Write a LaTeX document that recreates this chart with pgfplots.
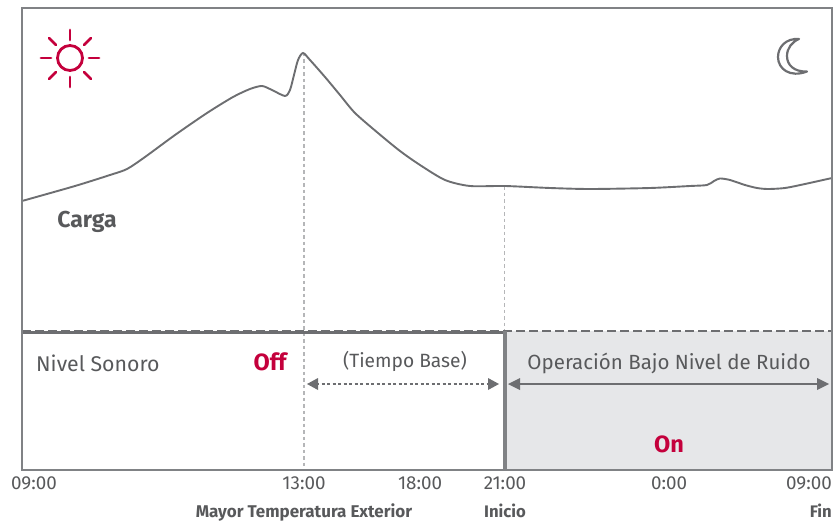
\documentclass[border=0pt]{standalone}
\usepackage{fontspec}
\setmainfont{Fira Sans}
\usepackage{pgfplots}
\pgfplotsset{compat=1.18}
\definecolor{frame}{HTML}{808285}
\definecolor{curve}{HTML}{6D6E71}
\definecolor{txt}{HTML}{58595B}
\definecolor{lgred}{HTML}{C4003C}
\definecolor{shade}{HTML}{E6E7E9}
\definecolor{vdash}{HTML}{B5B6B8}
\begin{document}
\begin{tikzpicture}[x=1pt,y=1pt]
\path[use as bounding box] (0,0) rectangle (833,524);
\begin{axis}[
  at={(22pt,54pt)},anchor=south west,
  scale only axis,width=810pt,height=462pt,
  xmin=22,xmax=832,ymin=8,ymax=470,y dir=reverse,
  axis line style={draw=frame,line width=1.9pt},
  ytick=\empty,
  xtick={34,304,420,505,669,809},
  xticklabels={09:00,13:00,18:00,21:00,0:00,09:00},
  major tick length=0pt,
  xticklabel style={font=\fontsize{18.8}{20}\selectfont,text=txt,yshift=-3pt,/pgf/number format/assume math mode=true},
  clip=false,
  axis on top=true,
]
% shaded area
\addplot[fill=shade,draw=none] coordinates {(505,331) (832,331) (832,470) (505,470)} -- cycle;
% guide lines
\addplot[vdash,line width=1.2pt,dash pattern=on 3.5pt off 3pt] coordinates {(304,53) (304,470)};
\addplot[vdash,line width=1.2pt,dash pattern=on 3.5pt off 3pt] coordinates {(504.5,186) (504.5,331)};
% curve
\addplot[curve,line width=1.9pt,smooth,tension=0.45] coordinates {
(22,201) (75,186) (110,175) (127,169) (145,157) (175,135) (207,113) (233,97) (250,89) (262,86) (272,90) (285,96) (290,90) (294,75) (298,60) (303,53) (310,60) (325,77) (340,95) (355,113) (378,133) (400,151) (420,165) (445,180) (470,186) (505,186) (550,188) (590,189) (650,188) (690,186) (707,185) (714,181) (720,178.5) (730,180) (745,185) (757,188) (768,189) (785,188) (805,184) (832,178)};
% separator
\addplot[curve,line width=2.2pt] coordinates {(22,332.5) (505,332.5)};
\addplot[curve,line width=2.8pt,dash pattern=on 9pt off 4pt] coordinates {(22,331) (832,331)};
\addplot[frame,line width=3.2pt] coordinates {(505,331) (505,470)};
% arrows
\addplot[curve,line width=1.2pt,dash pattern=on 3pt off 2.5pt] coordinates {(316,384) (490,384)};
\addplot[draw=none,fill=curve] coordinates {(307,384) (318,378) (318,390)} -- cycle;
\addplot[draw=none,fill=curve] coordinates {(499,384) (488,378) (488,390)} -- cycle;
\addplot[curve,line width=1.5pt] coordinates {(516,384) (820,384)};
\addplot[draw=none,fill=curve] coordinates {(508,384) (520,378) (520,390)} -- cycle;
\addplot[draw=none,fill=curve] coordinates {(829,384) (817,378) (817,390)} -- cycle;
% sun
\draw[lgred,line width=2.8pt] (axis cs:70,58) circle[radius=12.5pt];
\draw[lgred,line width=2.8pt,line cap=round] (axis cs:70,30) -- (axis cs:70,40);
\draw[lgred,line width=2.8pt,line cap=round] (axis cs:70,77) -- (axis cs:70,87);
\draw[lgred,line width=2.8pt,line cap=round] (axis cs:41,58) -- (axis cs:51,58);
\draw[lgred,line width=2.8pt,line cap=round] (axis cs:89,58) -- (axis cs:99,58);
\draw[lgred,line width=2.8pt,line cap=round] (axis cs:49,38) -- (axis cs:56,45);
\draw[lgred,line width=2.8pt,line cap=round] (axis cs:91,38) -- (axis cs:84,45);
\draw[lgred,line width=2.8pt,line cap=round] (axis cs:49,79) -- (axis cs:56,72);
\draw[lgred,line width=2.8pt,line cap=round] (axis cs:91,79) -- (axis cs:84,72);
% moon
\draw[curve,line width=2.2pt,line join=round,fill=white] (axis cs:799,39) .. controls (axis cs:786,38) and (axis cs:778,47) .. (axis cs:778,57) .. controls (axis cs:778,69) and (axis cs:790,78) .. (axis cs:807,71.5) .. controls (axis cs:794,72) and (axis cs:787,65) .. (axis cs:787,56) .. controls (axis cs:787,48) and (axis cs:792,42) .. (axis cs:799,39) -- cycle;
% labels
\node[anchor=base,font=\fontsize{23}{26}\selectfont\bfseries,text=txt] at (axis cs:87,227) {Carga};
\node[anchor=base west,font=\fontsize{21.3}{24}\selectfont,text=txt,inner sep=0pt] at (axis cs:36,371) {Nivel Sonoro};
\node[anchor=base,font=\fontsize{23.5}{26}\selectfont\bfseries,text=lgred] at (axis cs:270,370) {Off};
\node[anchor=base,font=\fontsize{19.2}{22}\selectfont,text=txt] at (axis cs:405,367) {(Tiempo Base)};
\node[anchor=base,font=\fontsize{20.5}{24}\selectfont,text=txt] at (axis cs:669,369) {Operación Bajo Nivel de Ruido};
\node[anchor=base,font=\fontsize{23.5}{26}\selectfont\bfseries,text=lgred] at (axis cs:669,452) {On};
\node[anchor=base,font=\fontsize{17}{18}\selectfont\bfseries,text=txt] at (axis cs:304,517) {Mayor Temperatura Exterior};
\node[anchor=base,font=\fontsize{16.7}{18}\selectfont\bfseries,text=txt] at (axis cs:505,517) {Inicio};
\node[anchor=base east,font=\fontsize{16.7}{18}\selectfont\bfseries,text=txt,inner sep=0pt] at (axis cs:832,517) {Fin};
\end{axis}
\end{tikzpicture}
\end{document}
